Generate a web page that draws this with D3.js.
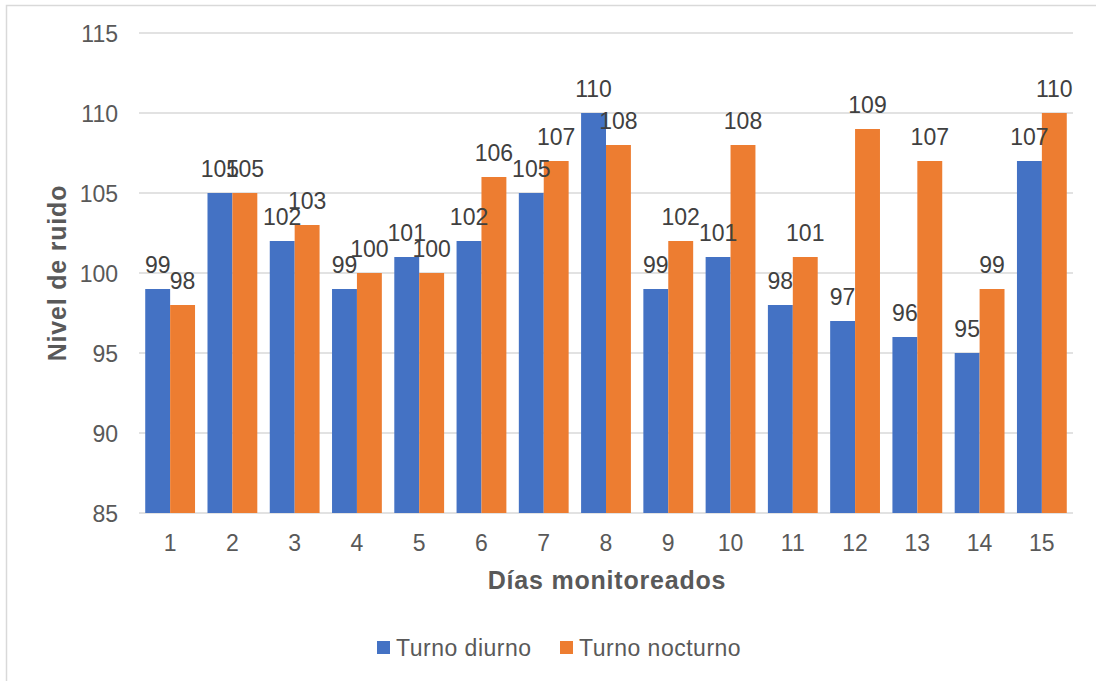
<!DOCTYPE html>
<html>
<head>
<meta charset="utf-8">
<script src="https://cdn.jsdelivr.net/npm/d3@7"></script>
<style>
  html, body { margin: 0; padding: 0; background: #fff; }
  svg { display: block; font-family: "Liberation Sans", Arial, sans-serif; }
</style>
</head>
<body>
<svg id="chart" width="1096" height="681"></svg>
<script>
// Noise level per monitored day, day and night shift
const dias = ["1","2","3","4","5","6","7","8","9","10","11","12","13","14","15"];
const turnoDiurno   = [99,105,102,99,101,102,105,110,99,101,98,97,96,95,107];
const turnoNocturno = [98,105,103,100,100,106,107,108,102,108,101,109,107,99,110];
const yTicks = [85,90,95,100,105,110,115];
const seriesNames = ["Turno diurno", "Turno nocturno"];
const seriesColors = ["#4472C4", "#ED7D31"];

const svg = d3.select("#chart");

// chart frame
svg.append("rect")
  .attr("x", 6.5).attr("y", 5.5)
  .attr("width", 1100).attr("height", 700)
  .attr("fill", "#fff").attr("stroke", "#d9d9d9").attr("stroke-width", 1.5);

const plot = { left: 139, right: 1073, top: 33, bottom: 513 };

const x0 = d3.scaleBand().domain(dias).range([plot.left, plot.right]).padding(0);
const groupW = x0.bandwidth() * 0.8;
const x1 = d3.scaleBand().domain(seriesNames).range([0, groupW]).padding(0);
const y = d3.scaleLinear().domain([85, 115]).range([plot.bottom, plot.top]);

// gridlines
svg.append("g").selectAll("line").data(yTicks).join("line")
  .attr("x1", plot.left).attr("x2", plot.right)
  .attr("y1", d => y(d)).attr("y2", d => y(d))
  .attr("stroke", "#d9d9d9").attr("stroke-width", 1.5);

// y tick labels
svg.append("g").selectAll("text").data(yTicks).join("text")
  .attr("x", 118).attr("y", d => y(d) + 8.5)
  .attr("text-anchor", "end")
  .attr("font-size", 23).attr("fill", "#595959")
  .text(d => d);

// x tick labels
svg.append("g").selectAll("text").data(dias).join("text")
  .attr("x", d => x0(d) + x0.bandwidth() / 2).attr("y", 551)
  .attr("text-anchor", "middle")
  .attr("font-size", 23).attr("fill", "#595959")
  .text(d => d);

// bars
const rows = dias.map((d, i) => ({ dia: d, vals: [turnoDiurno[i], turnoNocturno[i]] }));
const groups = svg.append("g").selectAll("g").data(rows).join("g")
  .attr("transform", d => `translate(${x0(d.dia) + (x0.bandwidth() - groupW) / 2},0)`);

groups.selectAll("rect").data(d => d.vals.map((v, k) => ({ k, v }))).join("rect")
  .attr("x", d => x1(seriesNames[d.k]))
  .attr("width", x1.bandwidth())
  .attr("y", d => y(d.v))
  .attr("height", d => y(85) - y(d.v))
  .attr("fill", d => seriesColors[d.k]);

// value labels
groups.selectAll("text").data(d => d.vals.map((v, k) => ({ k, v }))).join("text")
  .attr("x", d => x1(seriesNames[d.k]) + x1.bandwidth() / 2)
  .attr("y", d => y(d.v) - 16)
  .attr("text-anchor", "middle")
  .attr("font-size", 23).attr("fill", "#404040")
  .text(d => d.v);

// axis titles
svg.append("text")
  .attr("transform", `translate(66,${(plot.top + plot.bottom) / 2}) rotate(-90)`)
  .attr("text-anchor", "middle")
  .attr("font-size", 25).attr("font-weight", "bold").attr("fill", "#595959")
  .attr("letter-spacing", 0.8)
  .text("Nivel de ruido");

svg.append("text")
  .attr("x", 607).attr("y", 589)
  .attr("text-anchor", "middle")
  .attr("font-size", 25).attr("font-weight", "bold").attr("fill", "#595959")
  .attr("letter-spacing", 0.8)
  .text("Días monitoreados");

// legend
const legendX = [377, 560];
const legend = svg.append("g").selectAll("g").data(seriesNames).join("g")
  .attr("transform", (d, i) => `translate(${legendX[i]},641)`);
legend.append("rect").attr("width", 13).attr("height", 13)
  .attr("fill", (d, i) => seriesColors[i]);
legend.append("text").attr("x", 19).attr("y", 15)
  .attr("font-size", 23).attr("fill", "#595959")
  .attr("letter-spacing", 0.5)
  .text(d => d);
</script>
</body>
</html>
